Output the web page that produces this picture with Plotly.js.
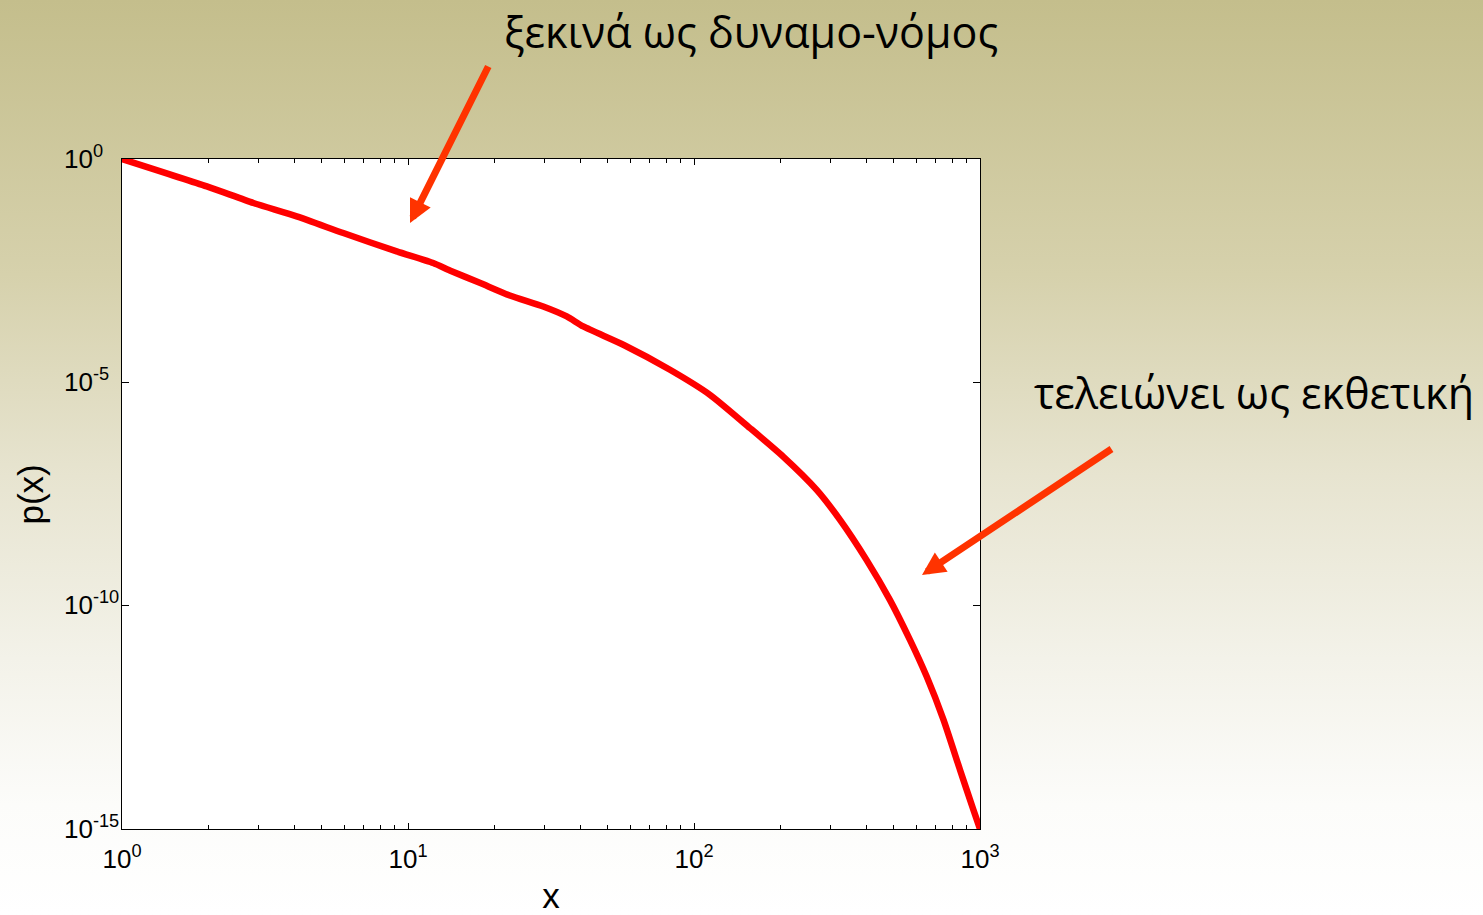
<!DOCTYPE html>
<html>
<head>
<meta charset="utf-8">
<script src="https://cdn.plot.ly/plotly-3.0.1.min.js"></script>
<style>
  html, body { margin: 0; padding: 0; }
  body {
    width: 1483px; height: 915px; overflow: hidden;
    background: linear-gradient(to bottom, #c4be8c 0%, #d6d1ac 30%, #e7e4d0 52%, #f3f2e9 72%, #fcfcfa 88%, #ffffff 100%);
  }
  #chart { width: 1483px; height: 915px; }
</style>
</head>
<body>
<div id="chart"></div>
<script>
// Degree distribution: power-law body with an exponential cut-off
const xValues = [1, 1.98, 2.88, 4.08, 5.94, 9.13, 12.25, 14.0, 17.9, 22.7, 29.7, 35.9, 41.0, 56.6,
  82.4, 113.7, 157, 205, 268.5, 324, 401, 484, 569, 651, 745, 851, 948, 1000];
const pValues = [1, 0.243, 0.1035, 0.0518, 0.0220, 0.00853, 0.00469, 0.00320, 0.00167, 8.81e-4,
  5.00e-4, 2.99e-4, 1.78e-4, 6.93e-5, 1.91e-5, 5.26e-6, 9.44e-7, 2.18e-7, 3.92e-8, 8.34e-9,
  1.06e-9, 1.35e-10, 1.71e-11, 2.58e-12, 2.81e-13, 2.13e-14, 2.69e-15, 1e-15];

const xTickVals = [1, 10, 100, 1000];
const xTickText = ['10<sup>0</sup>', '10<sup>1</sup>', '10<sup>2</sup>', '10<sup>3</sup>'];
const yTickVals = [1, 1e-5, 1e-10, 1e-15];
const yTickText = ['10<sup>0</sup>', '10<sup>-5</sup>', '10<sup>-10</sup>', '10<sup>-15</sup>'];

const xTitle = 'x';
const yTitle = 'p(x)';
const labelStart = 'ξεκινά ως δυναμο-νόμος';
const labelEnd = 'τελειώνει ως εκθετική';

// minor ticks at 2..9 within each decade
const xMinor = [];
[1, 10, 100].forEach(d => { for (let m = 2; m <= 9; m++) xMinor.push(m * d); });

const tickFont = { family: 'Liberation Sans, Arial, sans-serif', size: 26, color: '#000' };
const titleFont = { family: 'Liberation Sans, Arial, sans-serif', size: 35, color: '#000' };
const noteFont = { family: 'Open Sans, Noto Sans, sans-serif', size: 43, color: '#000' };
const arrowColor = '#ff3300';

const trace = {
  x: xValues,
  y: pValues,
  type: 'scatter',
  mode: 'lines',
  line: { color: '#ff0000', width: 6.5, shape: 'spline', smoothing: 0.6 },
  hoverinfo: 'skip'
};

// y tick labels are left-aligned in a column to the left of the axis
const yLabelNotes = yTickVals.map((v, i) => ({
  xref: 'paper', yref: 'y', x: -0.0699, y: Math.log10(v),
  xanchor: 'left', yanchor: 'middle', yshift: 2,
  text: yTickText[i], showarrow: false, font: tickFont
}));

const layout = {
  width: 1483,
  height: 915,
  margin: { l: 122, r: 503, t: 159, b: 86, pad: 0 },
  paper_bgcolor: 'rgba(0,0,0,0)',
  plot_bgcolor: '#ffffff',
  showlegend: false,
  xaxis: {
    type: 'log',
    range: [0, 3],
    tickmode: 'array',
    tickvals: xTickVals,
    ticktext: xTickText,
    ticks: 'inside',
    ticklen: 6,
    tickwidth: 1,
    tickcolor: '#000',
    tickfont: tickFont,
    ticklabelstandoff: 7,
    showline: true,
    linecolor: '#000',
    linewidth: 1,
    mirror: 'allticks',
    showgrid: false,
    zeroline: false,
    minor: { tickmode: 'array', tickvals: xMinor, ticks: 'inside', ticklen: 4, tickcolor: '#000', showgrid: false },
    title: { text: xTitle, font: titleFont, standoff: 33 }
  },
  yaxis: {
    type: 'log',
    range: [-15, 0],
    tickmode: 'array',
    tickvals: yTickVals,
    ticks: 'inside',
    ticklen: 7,
    tickwidth: 1,
    tickcolor: '#000',
    showticklabels: false,
    showline: true,
    linecolor: '#000',
    linewidth: 1,
    mirror: 'allticks',
    showgrid: false,
    zeroline: false
  },
  annotations: yLabelNotes.concat([
    { xref: 'paper', yref: 'paper', x: -0.1078, y: 0.4985, xanchor: 'center', yanchor: 'middle',
      textangle: -90, text: yTitle, showarrow: false, font: titleFont },
    { xref: 'paper', yref: 'paper', x: 0.733, y: 1.19, xanchor: 'center', yanchor: 'middle',
      text: labelStart, showarrow: false, font: noteFont },
    { xref: 'paper', yref: 'paper', x: 1.0605, y: 0.651, xanchor: 'left', yanchor: 'middle',
      text: labelEnd, showarrow: false, font: noteFont },
    { xref: 'paper', yref: 'paper', x: 0.3357, y: 0.9045, text: '', showarrow: true,
      ax: 79, ay: -158, arrowhead: 2, arrowwidth: 7, arrowsize: 0.66, arrowcolor: arrowColor },
    { xref: 'paper', yref: 'paper', x: 0.9324, y: 0.3791, text: '', showarrow: true,
      ax: 191, ay: -127, arrowhead: 2, arrowwidth: 7, arrowsize: 0.66, arrowcolor: arrowColor }
  ])
};

Plotly.newPlot('chart', [trace], layout, { staticPlot: true, displayModeBar: false });
</script>
</body>
</html>
